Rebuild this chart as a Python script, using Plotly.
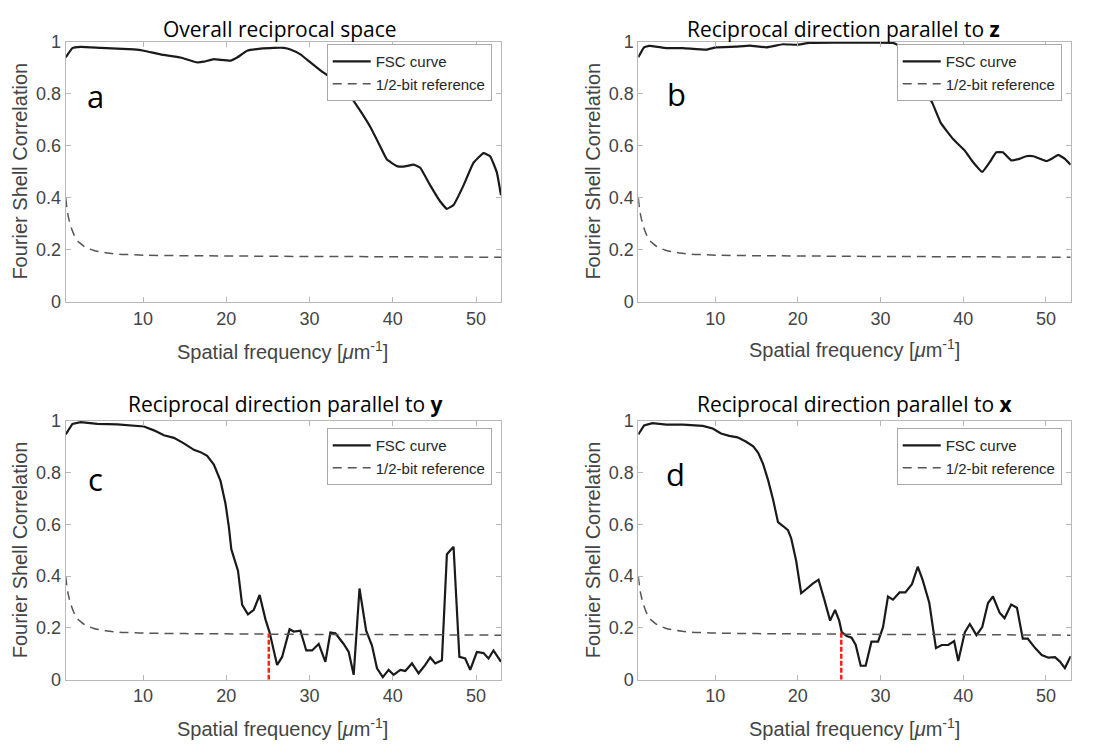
import plotly.graph_objects as go

# ---------------- data ----------------
freq_a = [0.7, 1.5, 2.5, 4.9, 8.9, 10.1, 12.1, 14.5, 16.5, 17.3, 18.5, 19.3, 20.5, 21.3, 22.5,
          24.1, 25.7, 26.9, 27.7, 28.9, 30.1, 31.3, 32.5, 33.5, 34.5, 36.1, 37.3, 38.5, 39.3,
          40.5, 41.3, 42.5, 43.3, 44.5, 45.7, 46.5, 47.3, 48.5, 49.7, 50.9, 51.7, 52.5, 53.0]
fsc_a = [0.939, 0.975, 0.980, 0.976, 0.970, 0.965, 0.951, 0.939, 0.920, 0.923, 0.933, 0.930,
         0.927, 0.939, 0.965, 0.973, 0.976, 0.976, 0.970, 0.951, 0.920, 0.890, 0.862, 0.835,
         0.808, 0.734, 0.672, 0.597, 0.547, 0.522, 0.520, 0.528, 0.516, 0.448, 0.386, 0.358,
         0.373, 0.448, 0.535, 0.572, 0.560, 0.498, 0.410]

freq_b = [0.7, 1.4, 2.0, 4.1, 6.1, 8.9, 10.1, 12.5, 14.2, 16.2, 18.2, 19.8, 21.4, 24.3, 28.3,
          31.5, 32.5, 33.1, 34.0, 35.0, 36.3, 37.3, 38.8, 40.2, 41.2, 42.3, 43.2, 44.0, 44.8,
          45.8, 46.8, 47.6, 48.5, 49.3, 50.1, 50.7, 51.5, 52.3, 53.0]
fsc_b = [0.940, 0.978, 0.984, 0.975, 0.975, 0.969, 0.978, 0.981, 0.985, 0.978, 0.990, 0.988,
         0.995, 0.996, 0.996, 0.995, 0.981, 0.956, 0.900, 0.840, 0.762, 0.687, 0.625, 0.581,
         0.537, 0.500, 0.537, 0.575, 0.575, 0.544, 0.550, 0.560, 0.560, 0.550, 0.541, 0.550,
         0.565, 0.550, 0.527]

freq_c = [0.7, 1.5, 2.5, 4.5, 6.9, 10.1, 11.3, 12.5, 13.7, 14.9, 16.1, 16.9, 17.7, 18.5, 19.3,
          19.9, 20.3, 20.6, 20.9, 21.4, 21.9, 22.6, 23.3, 24.0, 24.7, 25.2, 26.1, 26.7, 27.6,
          28.1, 28.9, 29.6, 30.3, 31.1, 31.9, 32.5, 33.1, 34.1, 34.7, 35.3, 36.0, 36.8, 37.5,
          38.1, 38.8, 39.5, 40.1, 40.9, 41.5, 42.3, 43.1, 43.9, 44.5, 45.1, 45.9, 46.5, 47.3,
          48.0, 48.7, 49.3, 50.1, 50.9, 51.5, 52.1, 53.0]
fsc_c = [0.946, 0.987, 0.994, 0.987, 0.985, 0.977, 0.962, 0.943, 0.933, 0.912, 0.887, 0.878,
         0.864, 0.830, 0.767, 0.679, 0.591, 0.503, 0.472, 0.421, 0.289, 0.252, 0.270, 0.327,
         0.233, 0.182, 0.057, 0.088, 0.195, 0.186, 0.189, 0.113, 0.113, 0.138, 0.069, 0.182,
         0.179, 0.138, 0.107, 0.019, 0.352, 0.189, 0.132, 0.044, 0.010, 0.038, 0.019, 0.038,
         0.034, 0.063, 0.025, 0.057, 0.086, 0.063, 0.075, 0.484, 0.513, 0.088, 0.082, 0.038,
         0.107, 0.103, 0.082, 0.113, 0.069]

freq_d = [0.7, 1.4, 2.4, 4.1, 6.1, 8.5, 9.7, 10.7, 11.7, 12.7, 13.7, 14.6, 15.2, 15.8, 16.4,
          17.0, 17.6, 18.2, 18.8, 19.2, 19.8, 20.4, 21.0, 21.8, 22.5, 23.2, 23.9, 24.5, 25.0,
          25.3, 25.9, 26.5, 27.0, 27.6, 28.2, 28.9, 29.7, 30.3, 30.9, 31.5, 32.3, 33.0, 33.8,
          34.5, 35.1, 35.9, 36.7, 37.4, 38.2, 38.9, 39.4, 40.2, 40.8, 41.6, 42.3, 43.0, 43.6,
          44.4, 45.0, 45.8, 46.5, 47.2, 47.8, 48.7, 49.5, 50.3, 51.1, 51.7, 52.3, 53.0]
fsc_d = [0.946, 0.981, 0.990, 0.984, 0.984, 0.979, 0.969, 0.950, 0.941, 0.935, 0.919, 0.900,
         0.875, 0.832, 0.770, 0.695, 0.608, 0.593, 0.577, 0.545, 0.458, 0.334, 0.349, 0.371,
         0.386, 0.309, 0.228, 0.269, 0.228, 0.184, 0.169, 0.162, 0.134, 0.054, 0.054, 0.147,
         0.147, 0.203, 0.321, 0.309, 0.337, 0.337, 0.369, 0.436, 0.384, 0.296, 0.122, 0.134,
         0.134, 0.149, 0.072, 0.184, 0.215, 0.172, 0.203, 0.296, 0.321, 0.259, 0.237, 0.290,
         0.278, 0.159, 0.159, 0.122, 0.095, 0.085, 0.087, 0.070, 0.045, 0.091]

# 1/2-bit reference threshold
ref_x = [0.7, 1.0, 1.5, 2.0, 2.5, 3.0, 4.0, 5.0, 6.0, 7.0, 8.5, 10, 15, 20, 30, 40, 53]
ref_y = [0.400, 0.330, 0.274, 0.240, 0.224, 0.212, 0.199, 0.192, 0.187, 0.184, 0.182, 0.180,
         0.178, 0.177, 0.175, 0.174, 0.172]

# resolution cut-offs (panels c and d)
cut_x = [25.1, 25.25]
cut_y = [0.178, 0.185]

titles = ["Overall reciprocal space",
          "Reciprocal direction parallel to <b>z</b>",
          "Reciprocal direction parallel to <b>y</b>",
          "Reciprocal direction parallel to <b>x</b>"]
letters = ["a", "b", "c", "d"]
legend_names = ["FSC curve", "1/2-bit reference"]
x_ticks = [10, 20, 30, 40, 50]
y_ticks = [0, 0.2, 0.4, 0.6, 0.8, 1]
x_label = "Spatial frequency [<i>μ</i>m<sup>-1</sup>]"
y_label = "Fourier Shell Correlation"

# ---------------- layout helpers ----------------
W, H = 1103, 754
def px(x):
    return x / W
def py(y):
    return 1 - y / H

col_dom = [[px(65.7), px(501.0)], [px(638.3), px(1070.7)]]
row_dom = [[py(300.0), py(32.5)], [py(688.0), py(421.7)]]

SANS = "Liberation Sans, Arial, sans-serif"
TICK_FONT = dict(family=SANS, size=18, color="#444444")
LABEL_FONT = dict(family=SANS, size=20, color="#444444")
TITLE_FONT = dict(family="Open Sans, Lato, sans-serif", size=21, color="#000000")
AXIS_COLOR = "#b8b8b8"

fig = go.Figure()

panels = [
    (freq_a, fsc_a, None),
    (freq_b, fsc_b, None),
    (freq_c, fsc_c, 0),
    (freq_d, fsc_d, 1),
]

layout = dict(
    width=W, height=H, margin=dict(l=0, r=0, t=0, b=0),
    paper_bgcolor="white", plot_bgcolor="white",
    annotations=[], showlegend=True,
)

for i, (fx, fy, cut) in enumerate(panels):
    r, c = divmod(i, 2)
    n = "" if i == 0 else str(i + 1)
    xa, ya = "x" + n, "y" + n
    leg = "legend" + n
    fig.add_trace(go.Scatter(x=fx, y=fy, mode="lines", name=legend_names[0],
                             line=dict(color="#1a1a1a", width=2.2, shape="spline",
                                       smoothing=0.3 if i < 2 else 0),
                             xaxis=xa, yaxis=ya, legend=leg))
    fig.add_trace(go.Scatter(x=ref_x, y=ref_y, mode="lines", name=legend_names[1],
                             line=dict(color="#555555", width=1.5, dash="9px,6px", shape="spline"),
                             xaxis=xa, yaxis=ya, legend=leg))
    if cut is not None:
        fig.add_trace(go.Scatter(x=[cut_x[cut], cut_x[cut]], y=[0, cut_y[cut]], mode="lines",
                                 line=dict(color="#ff2020", width=2.5, dash="5px,2px"),
                                 showlegend=False, xaxis=xa, yaxis=ya, hoverinfo="skip"))

    layout["xaxis" + n] = dict(
        domain=col_dom[c], anchor=ya, range=[0.7, 53], tickvals=x_ticks,
        showgrid=False, zeroline=False, showline=True, linecolor=AXIS_COLOR, linewidth=1,
        mirror="ticks", ticks="inside", ticklen=5, tickcolor=AXIS_COLOR,
        tickfont=TICK_FONT,
    )
    layout["yaxis" + n] = dict(
        domain=row_dom[r], anchor=xa, range=[0, 1], tickvals=y_ticks,
        showgrid=False, zeroline=False, showline=True, linecolor=AXIS_COLOR, linewidth=1,
        mirror="ticks", ticks="inside", ticklen=5, tickcolor=AXIS_COLOR,
        tickfont=TICK_FONT,
    )

    # legend box (top-right of each panel)
    leg_right = [491.7, 1061.7][c]
    leg_top = [35.0, 429.5][r]
    layout[leg] = dict(
        x=px(leg_right), y=py(leg_top), xanchor="right", yanchor="top",
        bgcolor="white", bordercolor="#a8a8a8", borderwidth=1,
        font=dict(family=SANS, size=15, color="#262626"),
        tracegroupgap=0, itemwidth=38,
    )

# titles, panel letters, axis labels
title_pos = [(280, 20), (843, 20), (285, 405), (855, 405)]
letter_pos = [(95, 88), (676, 86), (95, 482), (675, 477)]
xlab_pos = [(282, 350), (854, 348), (282, 737), (854, 737)]
ylab_pos = [(20, 166), (593, 166), (20, 555), (593, 555)]
ann = []
for i in range(4):
    ann.append(dict(text=titles[i], x=px(title_pos[i][0]), y=py(title_pos[i][1]),
                    xref="paper", yref="paper", showarrow=False, font=TITLE_FONT,
                    xanchor="center", yanchor="middle"))
    ann.append(dict(text=letters[i], x=px(letter_pos[i][0]), y=py(letter_pos[i][1]),
                    xref="paper", yref="paper", showarrow=False,
                    font=dict(family="Open Sans, Lato, sans-serif", size=31, color="#000000"),
                    xanchor="center", yanchor="middle"))
    ann.append(dict(text=x_label, x=px(xlab_pos[i][0]), y=py(xlab_pos[i][1]),
                    xref="paper", yref="paper", showarrow=False, font=LABEL_FONT,
                    xanchor="center", yanchor="middle"))
    ann.append(dict(text=y_label, x=px(ylab_pos[i][0]), y=py(ylab_pos[i][1]),
                    xref="paper", yref="paper", showarrow=False, font=LABEL_FONT,
                    textangle=-90, xanchor="center", yanchor="middle"))
layout["annotations"] = ann

fig.update_layout(**layout)
fig.write_html("out.html")
